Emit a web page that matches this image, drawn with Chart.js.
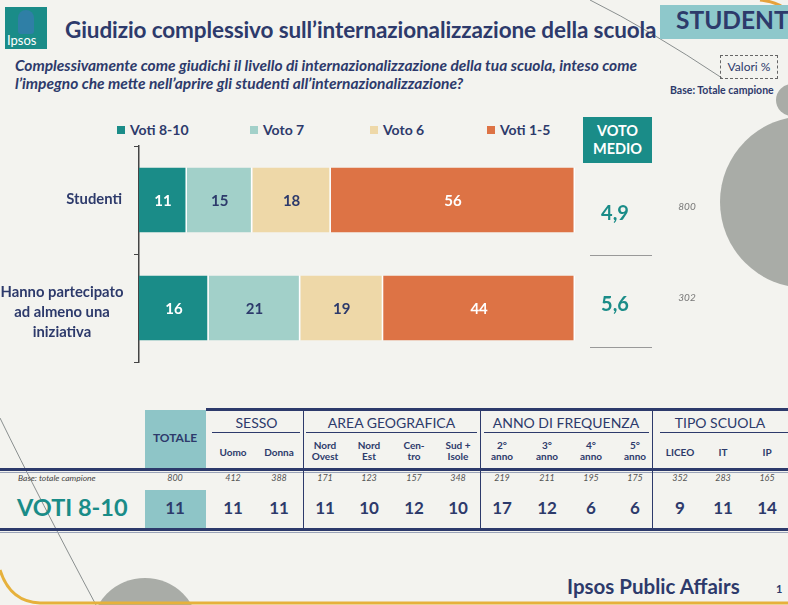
<!DOCTYPE html>
<html><head><meta charset="utf-8">
<script src="https://cdn.jsdelivr.net/npm/chart.js@4.4.1/dist/chart.umd.min.js"></script>
<style>
html,body{margin:0;padding:0;}
body{width:788px;height:605px;overflow:hidden;background:#f3f3ef;position:relative;font-family:Lato,"Open Sans",sans-serif;color:#2d3a6b;}
.abs{position:absolute;}
#chartWrap{position:absolute;left:0;top:130px;width:788px;height:240px;}
.leg{position:absolute;top:121px;font-weight:bold;font-size:14px;color:#2d3a6b;white-space:nowrap;}
.leg i{display:inline-block;width:8px;height:8px;margin-right:5px;vertical-align:1px;}
.th{position:absolute;text-align:center;font-weight:bold;font-size:10px;line-height:11px;color:#2d3a6b;transform:translateX(-50%);white-space:nowrap;}
.tb{position:absolute;text-align:center;font-style:italic;font-size:9px;color:#555;transform:translateX(-50%);top:472px;}
.tv{position:absolute;text-align:center;font-weight:bold;font-size:17px;color:#2d3a6b;transform:translateX(-50%);top:497px;}
.tg{position:absolute;text-align:center;font-size:14px;color:#2d3a6b;top:414px;}
</style></head>
<body>
<svg class="abs" style="left:0;top:0" width="788" height="605">
  <circle cx="806" cy="202" r="86" fill="#a9aca7"/>
  <circle cx="792" cy="100" r="16" fill="#a9aca7"/>
  <circle cx="145" cy="632" r="54" fill="#a9aca7"/>
  <path d="M590 0 Q650 30 722 78" stroke="#8a8f8f" stroke-width="1" fill="none"/>
  <path d="M0 418 Q40 500 96 605" stroke="#8a8f8f" stroke-width="1" fill="none"/>
  <path d="M0 570 Q10 602 40 603 L788 603" stroke="#e6b13c" stroke-width="3" fill="none"/>
  <path d="M760 0 Q780 2 788 12" stroke="#e6a23c" stroke-width="3" fill="none"/>
</svg>
<!-- logo -->
<div class="abs" style="left:5px;top:7px;width:42px;height:42px;background:#1a8c88;"></div>
<div class="abs" style="left:18px;top:10px;width:16px;height:24px;background:#2f7fa6;border-radius:8px 8px 3px 3px;"></div>
<div class="abs" style="left:7px;top:32px;font-size:13px;color:#fff;font-family:Lato;">Ipsos</div>
<div class="abs" style="left:65px;top:16px;font-size:22.5px;font-weight:bold;color:#2d3a6b;white-space:nowrap;letter-spacing:-0.1px;">Giudizio complessivo sull’internazionalizzazione della scuola</div>
<div class="abs" style="left:660px;top:5px;width:140px;height:34px;background:#8ec8cb;"></div>
<div class="abs" style="left:676px;top:5px;font-size:24.5px;font-weight:bold;color:#2d3a6b;white-space:nowrap;">STUDENTI</div>
<div class="abs" style="left:15px;top:56px;font-size:15.5px;font-weight:bold;font-style:italic;color:#2d3a6b;line-height:18px;white-space:nowrap;">Complessivamente come giudichi il livello di internazionalizzazione della tua scuola, inteso come<br>l’impegno che mette nell’aprire gli studenti all’internazionalizzazione?</div>
<div class="abs" style="left:720px;top:55px;width:56px;height:22px;border:1px dashed #666;font-size:12px;text-align:center;line-height:22px;color:#2d3a6b;">Valori %</div>
<div class="abs" style="left:670px;top:84px;font-size:10.5px;font-weight:bold;color:#2d3a6b;white-space:nowrap;">Base: Totale campione</div>
<div id="legend"></div>
<div class="abs" style="left:583px;top:117px;width:69px;height:46px;background:#1a8c88;color:#fff;font-weight:bold;font-size:14.5px;text-align:center;line-height:18px;padding-top:5px;box-sizing:border-box;">VOTO<br>MEDIO</div>
<div id="chartWrap"><canvas id="c" width="788" height="240"></canvas></div>
<div id="table"></div>
<div class="abs" style="left:567px;top:574px;font-size:20.5px;font-weight:bold;color:#2d3a6b;white-space:nowrap;">Ipsos Public Affairs</div>
<div class="abs" style="left:776px;top:582px;font-size:11px;font-weight:bold;color:#2d3a6b;">1</div>
<script>
// ---- data ----
const categories = ['Studenti', ['Hanno partecipato', 'ad almeno una', 'iniziativa']];
const seriesNames = ['Voti 8-10', 'Voto 7', 'Voto 6', 'Voti 1-5'];
const voti8_10 = [11, 16];
const voto7 = [15, 21];
const voto6 = [18, 19];
const voti1_5 = [56, 44];
const votoMedio = ['4,9', '5,6'];
const baseN = ['800', '302'];

const tableGroups = ['SESSO', 'AREA GEOGRAFICA', 'ANNO DI FREQUENZA', 'TIPO SCUOLA'];
const tableCols = ['Uomo', 'Donna', 'Nord|Ovest', 'Nord|Est', 'Cen-|tro', 'Sud +|Isole', '2°|anno', '3°|anno', '4°|anno', '5°|anno', 'LICEO', 'IT', 'IP'];
const tableBase = [412, 388, 171, 123, 157, 348, 219, 211, 195, 175, 352, 283, 165];
const tableVoti8_10 = [11, 11, 11, 10, 12, 10, 17, 12, 6, 6, 9, 11, 14];
const totaleBase = 800;
const totaleVoti8_10 = 11;

// ---- styles ----
const colors = ['#1a8c88', '#a2d0c9', '#eed8a8', '#dd7345'];
const labelColors = ['#ffffff', '#2d3a6b', '#2d3a6b', '#ffffff'];
const navy = '#2d3a6b';

// legend
const legX = [117, 250, 370, 487];
document.getElementById('legend').innerHTML = seriesNames.map((n, i) =>
  `<div class="leg" style="left:${legX[i]}px"><i style="background:${colors[i]}"></i>${n}</div>`).join('');

// table
(function () {
  const colX = [233, 279, 325, 369, 414, 458, 502, 547, 591, 635, 680, 723, 767];
  const groupSpans = [[210, 303], [303, 480], [480, 652], [652, 788]];
  const lineSpans = [[212, 300], [306, 477], [484, 649], [660, 788]];
  let h = '';
  h += `<div class="abs" style="left:145px;top:410px;width:61px;height:60px;background:#8ec5c7;"></div>`;
  h += `<div class="abs" style="left:145px;top:490px;width:61px;height:38px;background:#8ec5c7;"></div>`;
  h += `<div class="th" style="left:175px;top:432px;font-size:12px;">TOTALE</div>`;
  h += `<div class="abs" style="left:206px;top:408px;width:582px;height:3px;background:#2d3a6b;"></div>`;
  h += `<div class="abs" style="left:0;top:468px;width:788px;height:3px;background:#2d3a6b;"></div>`;
  h += `<div class="abs" style="left:0;top:472px;width:788px;height:1px;background:#9aa3b8;"></div>`;
  h += `<div class="abs" style="left:0;top:528px;width:788px;height:3px;background:#2d3a6b;"></div>`;
  h += `<div class="abs" style="left:0;top:532px;width:788px;height:1px;background:#9aa3b8;"></div>`;
  [303, 480, 652].forEach(x => { h += `<div class="abs" style="left:${x}px;top:411px;width:1px;height:117px;background:#2d3a6b;"></div>`; });
  tableGroups.forEach((g, i) => {
    const [a, b] = groupSpans[i];
    h += `<div class="tg" style="left:${a}px;width:${b - a}px;">${g}</div>`;
    const [c, d] = lineSpans[i];
    h += `<div class="abs" style="left:${c}px;top:432px;width:${d - c}px;height:1px;background:#2d3a6b;"></div>`;
  });
  tableCols.forEach((t, i) => {
    const parts = t.split('|');
    const top = parts.length > 1 ? 440 : 447;
    h += `<div class="th" style="left:${colX[i]}px;top:${top}px;">${parts.join('<br>')}</div>`;
    h += `<div class="tb" style="left:${colX[i]}px;">${tableBase[i]}</div>`;
    h += `<div class="tv" style="left:${colX[i]}px;">${tableVoti8_10[i]}</div>`;
  });
  h += `<div class="tb" style="left:175px;">${totaleBase}</div>`;
  h += `<div class="tv" style="left:175px;">${totaleVoti8_10}</div>`;
  h += `<div class="abs" style="left:18px;top:473px;font-size:8.5px;font-style:italic;color:#444;white-space:nowrap;">Base: totale campione</div>`;
  h += `<div class="abs" style="left:17px;top:493px;font-size:23.5px;font-weight:bold;color:#1a8c88;white-space:nowrap;">VOTI 8-10</div>`;
  document.getElementById('table').innerHTML = h;
})();

// plugins
const segLabels = {
  id: 'segLabels',
  afterDatasetsDraw(chart) {
    const ctx = chart.ctx;
    ctx.save();
    ctx.font = 'bold 15px Lato';
    ctx.textAlign = 'center';
    ctx.textBaseline = 'middle';
    chart.data.datasets.forEach((ds, di) => {
      chart.getDatasetMeta(di).data.forEach((bar, i) => {
        const p = bar.getProps(['x', 'base', 'y'], true);
        ctx.fillStyle = labelColors[di];
        ctx.fillText(String(ds.data[i]), (p.x + p.base) / 2, p.y + 1);
      });
    });
    ctx.restore();
  }
};
const sideText = {
  id: 'sideText',
  afterDraw(chart) {
    const ctx = chart.ctx;
    const ys = chart.scales.y;
    ctx.save();
    ctx.textBaseline = 'middle';
    categories.forEach((c, i) => {
      const y = ys.getPixelForValue(i);
      ctx.fillStyle = navy;
      ctx.font = 'bold 14.8px Lato';
      if (Array.isArray(c)) {
        ctx.textAlign = 'center';
        c.forEach((line, k) => ctx.fillText(line, 62, y - 18 + k * 20 + 2));
      } else {
        ctx.textAlign = 'right';
        ctx.fillText(c, 122, y - 1);
      }
      const off = [14, -3][i];
      ctx.fillStyle = '#1a8c88';
      ctx.font = 'bold 20px Lato';
      ctx.textAlign = 'center';
      ctx.fillText(votoMedio[i], 615, y + off);
      ctx.fillStyle = '#777';
      ctx.font = 'italic 10px Lato';
      ctx.fillText(baseN[i], 687, y + off - 7);
      ctx.strokeStyle = '#999';
      ctx.lineWidth = 1;
      ctx.beginPath();
      ctx.moveTo(590, y + 55 - (i ? 16 : 0) + 0.5);
      ctx.lineTo(652, y + 55 - (i ? 16 : 0) + 0.5);
      ctx.stroke();
    });
    ctx.restore();
  }
};

new Chart(document.getElementById('c'), {
  type: 'bar',
  data: {
    labels: categories,
    datasets: [voti8_10, voto7, voto6, voti1_5].map((d, i) => ({
      label: seriesNames[i],
      data: d,
      backgroundColor: colors[i],
      borderColor: '#ffffff',
      borderWidth: { right: 1.5 },
      borderSkipped: 'start',
      barPercentage: 0.6,
      categoryPercentage: 1
    }))
  },
  options: {
    indexAxis: 'y',
    responsive: false,
    animation: false,
    layout: { padding: { left: 134, right: 213, top: 16, bottom: 8 } },
    plugins: { legend: { display: false }, tooltip: { enabled: false } },
    scales: {
      x: { stacked: true, min: 0, max: 100, display: false },
      y: {
        stacked: true,
        ticks: { display: false },
        grid: { display: true, drawOnChartArea: false, drawTicks: true, tickLength: 5, offset: true, color: '#444' },
        border: { display: true, color: '#444', width: 1.5 }
      }
    }
  },
  plugins: [segLabels, sideText]
});
</script>
</body></html>
